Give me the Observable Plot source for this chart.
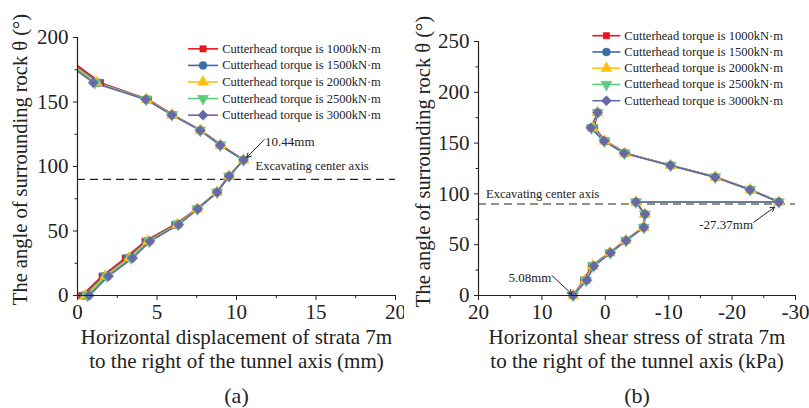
<!DOCTYPE html>
<html>
<head>
<meta charset="utf-8">
<script src="https://cdn.jsdelivr.net/npm/d3@7"></script>
<script src="https://cdn.jsdelivr.net/npm/@observablehq/plot@0.6"></script>
<style>
  body { margin: 0; background: white; }
  #wrap { display: flex; width: 809px; height: 408px; }
  #wrap svg, #wrap svg text { font-family: "Liberation Serif", "Times New Roman", serif !important; }
</style>
</head>
<body>
<div id="wrap"></div>
<script>
// ---------- data ----------
const seriesLabels = ["Cutterhead torque is 1000kN·m", "Cutterhead torque is 1500kN·m", "Cutterhead torque is 2000kN·m", "Cutterhead torque is 2500kN·m", "Cutterhead torque is 3000kN·m"];
const seriesColors = ["#e8141c", "#3a6ea5", "#fcc010", "#5fca80", "#6868a8"];

// (a) horizontal displacement (mm)
const anglesA = [0, 15, 29, 42, 55, 67, 80, 92.5, 105, 116.5, 128, 140, 152, 165, 180];
const dispA1000 = [0.27, 1.55, 3.0, 4.25, 6.12, 7.48, 8.75, 9.5, 10.44, 9.05, 7.78, 6.02, 4.45, 1.45, -0.2];
const dispA1500 = [0.4, 1.65, 3.12, 4.33, 6.19, 7.5, 8.76, 9.51, 10.44, 9.02, 7.75, 5.99, 4.4, 1.33, -0.35];
const dispA2000 = [0.5, 1.75, 3.25, 4.42, 6.26, 7.52, 8.77, 9.52, 10.44, 9.0, 7.74, 5.96, 4.36, 1.2, -0.45];
const dispA2500 = [0.62, 1.85, 3.36, 4.5, 6.32, 7.54, 8.78, 9.53, 10.44, 8.98, 7.72, 5.94, 4.32, 1.1, -0.55];
const dispA3000 = [0.74, 1.95, 3.47, 4.56, 6.37, 7.56, 8.78, 9.54, 10.44, 8.97, 7.71, 5.92, 4.29, 0.99, -0.67];

// (b) horizontal shear stress (kPa)
const anglesB = [0, 15, 29, 42, 54, 67, 80, 92, 92, 104, 116.5, 128, 140, 152, 165, 180];
const shearB1000 = [5.08, 3.4, 2.2, -0.6, -3.1, -5.95, -6.2, -4.9, -27.37, -23.0, -17.5, -10.4, -3.3, -0.05, 1.7, 1.3];
const shearB1500 = [5.08, 3.3, 2.1, -0.65, -3.15, -6.0, -6.22, -4.88, -27.37, -22.95, -17.45, -10.37, -3.2, 0.0, 1.85, 1.28];
const shearB2000 = [5.08, 3.2, 2.0, -0.7, -3.2, -6.04, -6.23, -4.85, -27.37, -22.9, -17.4, -10.33, -3.12, 0.07, 2.0, 1.25];
const shearB2500 = [5.08, 3.05, 1.9, -0.77, -3.25, -6.07, -6.25, -4.83, -27.37, -22.85, -17.35, -10.3, -3.03, 0.13, 2.15, 1.22];
const shearB3000 = [5.08, 2.9, 1.8, -0.84, -3.3, -6.1, -6.26, -4.8, -27.37, -22.8, -17.3, -10.26, -2.95, 0.2, 2.3, 1.2];

const xTicksA = [0, 5, 10, 15, 20];
const xMinorA = [2.5, 7.5, 12.5, 17.5];
const yTicksA = [0, 50, 100, 150, 200];
const yMinorA = [25, 75, 125, 175];
const xTicksB = [20, 10, 0, -10, -20, -30];
const xMinorB = [15, 5, -5, -15, -25];
const yTicksB = [0, 50, 100, 150, 200, 250];
const yMinorB = [25, 75, 125, 175, 225];

const axisAngle = 90;
const yTitle = "The angle of surrounding rock θ (°)";
const xTitleA = ["Horizontal displacement of strata 7m", "to the right of the tunnel axis (mm)"];
const xTitleB = ["Horizontal shear stress of strata 7m", "to the right of the tunnel axis (kPa)"];

// ---------- helpers ----------
const triDown = {
  draw(context, size) {
    const y = -Math.sqrt(size / (Math.sqrt(3) * 3));
    context.moveTo(0, -y * 2);
    context.lineTo(Math.sqrt(3) * y, y);
    context.lineTo(-Math.sqrt(3) * y, y);
    context.closePath();
  }
};
const symbols = ["square", "circle", "triangle", triDown, "diamond2"];
const radii = [3.6, 4.0, 4.2, 4.2, 4.6];

function table(angles, seriesArrays) {
  const rows = [];
  seriesArrays.forEach((arr, si) => arr.forEach((v, i) => rows.push({series: seriesLabels[si], si, x: v, y: angles[i], i})));
  return rows;
}

const font = "'Liberation Serif', 'Times New Roman', serif";
const ink = "#222";
const plainFormat = d => String(d);

function seriesMarks(rows, clipLines, dotFilter) {
  const marks = [];
  for (let s = 0; s < seriesLabels.length; s++) {
    const d = rows.filter(r => r.si === s);
    marks.push(Plot.line(d, {x: "x", y: "y", stroke: seriesColors[s], strokeWidth: 1.6, clip: clipLines}));
  }
  for (let s = 0; s < seriesLabels.length; s++) {
    const d = rows.filter(r => r.si === s && dotFilter(r));
    marks.push(Plot.dot(d, {x: "x", y: "y", fill: seriesColors[s], stroke: seriesColors[s], strokeWidth: 0.5, symbol: symbols[s], r: radii[s]}));
  }
  return marks;
}

function legendMarks(x1, x2, xt, yStart, yStep) {
  const rows = seriesLabels.map((label, s) => ({label, s, y: yStart - s * yStep}));
  const marks = [];
  rows.forEach(r => {
    marks.push(Plot.link([r], {x1: x1, x2: x2, y1: "y", y2: "y", stroke: seriesColors[r.s], strokeWidth: 1.6}));
    marks.push(Plot.dot([r], {x: (x1 + x2) / 2, y: "y", fill: seriesColors[r.s], stroke: seriesColors[r.s], strokeWidth: 0.5, symbol: symbols[r.s], r: radii[r.s]}));
  });
  marks.push(Plot.text(rows, {x: xt, y: "y", text: "label", textAnchor: "start", fontSize: 12.5, fill: ink}));
  return marks;
}

function axisMarks(xT, xM, yT, yM) {
  return [
    Plot.axisX(xT, {tickSize: 5, tickPadding: 4, fontSize: 21, label: null, stroke: ink, fill: ink, tickFormat: plainFormat}),
    Plot.axisX(xM, {tickSize: 3, tickFormat: () => "", label: null, stroke: ink}),
    Plot.axisY(yT, {tickSize: 4, tickPadding: 5, fontSize: 21, label: null, stroke: ink, fill: ink, tickFormat: plainFormat}),
    Plot.axisY(yM, {tickSize: 2.5, tickFormat: () => "", label: null, stroke: ink})
  ];
}

function titleMarks(xTitle, caption, yTitleDx) {
  return [
    Plot.text([xTitle[0]], {frameAnchor: "bottom", lineAnchor: "middle", dy: 42, fontSize: 21, fill: ink}),
    Plot.text([xTitle[1]], {frameAnchor: "bottom", lineAnchor: "middle", dy: 66, fontSize: 21, fill: ink}),
    Plot.text([caption], {frameAnchor: "bottom", lineAnchor: "middle", dy: 100, fontSize: 22, fill: ink}),
    Plot.text([yTitle], {frameAnchor: "left", textAnchor: "middle", lineAnchor: "middle", dx: yTitleDx, dy: -7, rotate: -90, fontSize: 20.5, fill: ink})
  ];
}

// ---------- (a) ----------
const rowsA = table(anglesA, [dispA1000, dispA1500, dispA2000, dispA2500, dispA3000]);
const plotA = Plot.plot({
  width: 404, height: 408,
  marginLeft: 77, marginRight: 9, marginTop: 37, marginBottom: 113,
  x: {domain: [0, 20]},
  y: {domain: [0, 200]},
  style: {fontFamily: font, background: "white", color: ink, overflow: "visible"},
  marks: [
    ...axisMarks(xTicksA, xMinorA, yTicksA, yMinorA),
    Plot.ruleY([axisAngle], {stroke: ink, strokeWidth: 1.1, strokeDasharray: "8,5"}),
    ...seriesMarks(rowsA, true, r => r.x >= 0),
    Plot.ruleX([0], {stroke: ink, strokeWidth: 1.2}),
    Plot.ruleY([0], {stroke: ink, strokeWidth: 1.2}),
    ...legendMarks(6.95, 8.84, 9.1, 191.2, 12.85),
    Plot.arrow([{x1: 11.75, y1: 121, x2: 10.65, y2: 107}], {x1: "x1", y1: "y1", x2: "x2", y2: "y2", stroke: ink, strokeWidth: 1, headLength: 7}),
    Plot.text(["10.44mm"], {x: 11.8, y: 119.5, textAnchor: "start", fontSize: 13, fill: ink}),
    Plot.text(["Excavating center axis"], {x: 11.2, y: 100.5, textAnchor: "start", fontSize: 12.5, fill: ink}),
    ...titleMarks(xTitleA, "(a)", -57)
  ]
});

// ---------- (b) ----------
const rowsB = table(anglesB, [shearB1000, shearB1500, shearB2000, shearB2500, shearB3000]);
const plotB = Plot.plot({
  width: 405, height: 408,
  marginLeft: 74, marginRight: 14, marginTop: 41, marginBottom: 113,
  x: {domain: [20, -30]},
  y: {domain: [0, 250]},
  style: {fontFamily: font, background: "white", color: ink, overflow: "visible"},
  marks: [
    ...axisMarks(xTicksB, xMinorB, yTicksB, yMinorB),
    Plot.ruleY([axisAngle], {stroke: ink, strokeWidth: 1.1, strokeDasharray: "8,5"}),
    ...seriesMarks(rowsB, false, r => true),
    Plot.ruleX([20], {stroke: ink, strokeWidth: 1.2}),
    Plot.ruleY([0], {stroke: ink, strokeWidth: 1.2}),
    ...legendMarks(2.04, -2.38, -3.0, 255.7, 16.0),
    Plot.arrow([{x1: -23.4, y1: 72, x2: -26.7, y2: 87}], {x1: "x1", y1: "y1", x2: "x2", y2: "y2", stroke: ink, strokeWidth: 1, headLength: 7}),
    Plot.text(["-27.37mm"], {x: -23.3, y: 69.5, textAnchor: "end", fontSize: 13, fill: ink}),
    Plot.arrow([{x1: 8.4, y1: 19.5, x2: 5.3, y2: 1.5}], {x1: "x1", y1: "y1", x2: "x2", y2: "y2", stroke: ink, strokeWidth: 1, headLength: 7}),
    Plot.text(["5.08mm"], {x: 8.5, y: 17.5, textAnchor: "end", fontSize: 13, fill: ink}),
    Plot.text(["Excavating center axis"], {x: 18.8, y: 99.5, textAnchor: "start", fontSize: 12.5, fill: ink}),
    ...titleMarks(xTitleB, "(b)", -55)
  ]
});

const wrap = document.getElementById("wrap");
wrap.appendChild(plotA);
wrap.appendChild(plotB);
</script>
</body>
</html>
